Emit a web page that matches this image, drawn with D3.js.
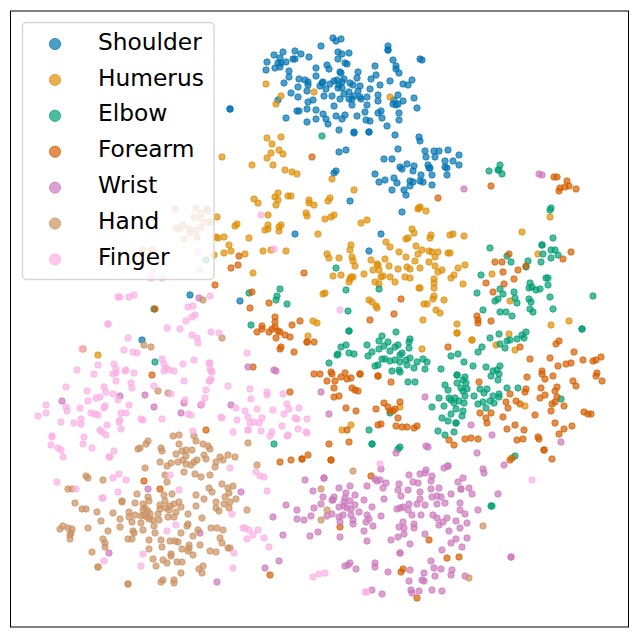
<!DOCTYPE html>
<html>
<head>
<meta charset="utf-8">
<script src="https://cdn.jsdelivr.net/npm/d3@7"></script>
<style>
html, body { margin: 0; padding: 0; background: #fff; }
svg { display: block; }
</style>
</head>
<body>
<div id="chart"></div>
<script>
// data: embedding positions
const categories = ["Shoulder", "Humerus", "Elbow", "Forearm", "Wrist", "Hand", "Finger"];
const colours = ["#0173b2", "#de8f05", "#029e73", "#d55e00", "#cc78bc", "#ca9161", "#fbafe4"];

const shoulder = [[333,38],[336,41],[341,39],[321,46],[388,46],[388,50],[388,50],[274,55],[283,52],[295,51],[301,54],[309,57],[338,52],[342,54],[349,53],[338,59],[280,58],[267,62],[286,62],[278,63],[281,63],[293,59],[295,59],[266,70],[275,68],[280,67],[327,65],[316,68],[329,69],[345,63],[347,64],[375,66],[393,60],[396,66],[396,69],[399,73],[420,59],[422,60],[289,71],[289,77],[316,76],[340,72],[341,73],[358,72],[357,78],[376,75],[371,79],[299,79],[305,80],[308,82],[284,83],[323,82],[322,83],[330,84],[334,81],[337,80],[344,79],[342,82],[350,83],[353,85],[360,86],[339,85],[338,88],[342,88],[320,86],[326,89],[308,85],[298,87],[307,91],[380,85],[390,81],[403,84],[408,85],[412,80],[370,89],[358,91],[291,93],[298,97],[324,96],[332,96],[344,94],[349,92],[378,95],[398,95],[414,98],[354,96],[352,99],[360,97],[361,99],[367,97],[340,99],[349,99],[313,100],[308,102],[378,101],[394,100],[403,101],[393,104],[396,105],[398,104],[278,100],[334,106],[352,105],[367,105],[417,108],[307,109],[316,110],[297,111],[299,111],[365,112],[381,111],[378,113],[399,113],[323,114],[336,116],[345,115],[357,116],[382,118],[326,119],[342,119],[316,119],[286,118],[307,122],[328,124],[366,120],[370,121],[399,120],[387,126],[339,130],[354,132],[354,133],[369,132],[369,132],[395,135],[230,109],[230,109],[419,137],[420,141],[398,149],[339,152],[346,150],[425,151],[426,157],[384,159],[392,159],[400,167],[402,169],[407,164],[414,166],[413,171],[428,165],[429,168],[334,173],[336,171],[375,174],[421,175],[394,178],[385,180],[379,182],[397,183],[410,181],[413,182],[410,186],[420,181],[423,182],[392,190],[404,190],[406,195],[350,201],[434,151],[439,151],[448,150],[459,155],[435,157],[445,161],[453,161],[430,168],[459,165],[445,167],[447,168],[432,175],[447,175],[432,185],[402,212],[381,234],[369,251],[295,234],[240,301],[190,295],[142,340]];

const humerus = [[266,84],[281,96],[276,104],[314,92],[390,97],[267,138],[281,137],[272,144],[279,150],[271,153],[283,154],[267,158],[222,157],[252,165],[273,165],[285,170],[292,172],[297,174],[332,179],[354,190],[254,199],[258,203],[278,193],[275,197],[278,200],[276,205],[288,196],[291,196],[309,200],[309,203],[314,205],[330,198],[328,201],[217,217],[306,213],[307,216],[325,219],[331,217],[334,215],[361,223],[367,220],[268,215],[237,224],[235,226],[268,225],[265,230],[268,229],[281,225],[279,227],[279,231],[318,234],[216,237],[218,238],[224,237],[249,238],[229,245],[231,251],[224,253],[245,254],[263,251],[271,250],[286,251],[253,273],[351,245],[350,250],[327,254],[329,258],[339,258],[352,257],[353,261],[355,266],[371,260],[385,259],[386,242],[390,247],[399,252],[406,257],[406,239],[408,238],[412,229],[414,233],[416,246],[422,250],[418,254],[415,261],[429,251],[429,262],[419,208],[418,209],[426,211],[377,264],[378,265],[389,266],[398,269],[407,267],[410,269],[420,268],[373,270],[379,270],[364,274],[333,276],[341,275],[353,277],[351,277],[350,279],[349,282],[381,277],[383,276],[390,277],[405,277],[410,278],[395,282],[375,282],[379,284],[419,288],[323,294],[325,293],[369,300],[372,302],[376,306],[377,308],[424,304],[427,304],[423,320],[313,321],[317,323],[308,336],[422,349],[420,207],[550,217],[522,232],[431,235],[430,238],[450,235],[453,234],[464,236],[432,252],[438,252],[448,253],[450,253],[435,257],[435,266],[442,270],[438,272],[458,268],[465,265],[454,275],[451,278],[434,279],[434,283],[434,288],[463,284],[420,288],[434,296],[433,299],[444,300],[436,310],[440,313],[457,324],[538,254],[492,274],[510,301],[551,325],[569,321],[457,333],[457,333],[472,340],[472,340],[496,345],[509,334],[515,350],[525,406],[351,425],[342,430],[400,407],[83,349],[98,355],[214,255]];

const elbow = [[322,136],[500,165],[489,171],[498,170],[499,170],[502,174],[551,208],[550,210],[553,238],[490,248],[542,245],[542,245],[551,250],[555,250],[543,254],[558,255],[551,258],[507,256],[511,262],[528,261],[541,262],[526,267],[481,275],[546,278],[548,278],[530,283],[548,285],[529,288],[532,287],[536,290],[540,289],[500,289],[477,293],[503,294],[514,292],[498,299],[495,301],[515,298],[517,303],[529,299],[531,302],[550,297],[593,296],[483,310],[500,312],[506,312],[512,316],[530,309],[533,312],[553,309],[582,329],[582,329],[526,332],[336,268],[346,290],[379,289],[348,311],[349,331],[349,331],[280,289],[277,296],[276,300],[287,304],[249,293],[251,325],[329,363],[382,336],[396,332],[410,339],[409,342],[367,345],[379,341],[388,342],[384,346],[398,345],[395,347],[409,348],[341,347],[346,345],[349,353],[354,354],[337,355],[338,354],[368,356],[372,352],[379,349],[390,351],[402,353],[400,355],[410,358],[382,359],[385,359],[390,361],[395,360],[400,362],[406,360],[417,362],[375,366],[378,365],[407,365],[414,368],[392,371],[399,370],[400,372],[408,382],[415,382],[274,444],[369,430],[372,444],[372,444],[400,447],[398,449],[390,413],[490,338],[499,334],[482,347],[478,352],[500,344],[505,348],[507,341],[510,340],[517,339],[522,335],[524,338],[451,356],[458,354],[464,362],[473,366],[441,369],[486,367],[500,366],[493,371],[497,370],[499,374],[491,376],[498,380],[457,375],[457,375],[465,377],[463,380],[457,383],[466,383],[445,385],[448,390],[461,388],[467,389],[463,391],[465,396],[480,389],[487,389],[484,393],[507,388],[518,388],[474,396],[493,396],[499,394],[499,397],[490,401],[483,402],[478,404],[494,403],[486,408],[449,398],[455,398],[439,398],[451,400],[454,403],[459,401],[464,403],[444,406],[432,407],[456,409],[463,411],[451,414],[462,416],[442,418],[448,421],[456,423],[456,423],[438,431],[454,432],[445,435],[561,399],[515,456],[423,359],[427,362],[425,369],[491,506],[492,506],[154,309],[155,362],[206,260]];

const forearm = [[312,157],[491,186],[554,177],[557,177],[567,181],[569,186],[565,187],[560,188],[559,191],[576,189],[438,198],[571,252],[563,259],[509,254],[495,262],[502,262],[518,270],[503,272],[526,266],[514,279],[486,283],[504,284],[493,292],[477,316],[478,320],[478,323],[491,321],[239,256],[238,265],[231,268],[304,273],[215,285],[252,292],[269,303],[250,308],[401,299],[394,314],[370,320],[275,317],[275,322],[275,327],[262,326],[262,329],[272,329],[269,332],[257,332],[278,331],[280,332],[285,335],[290,337],[276,338],[300,321],[292,325],[307,342],[307,342],[314,342],[281,347],[280,349],[294,352],[331,372],[314,374],[320,374],[332,374],[345,373],[341,377],[347,379],[351,378],[360,374],[360,374],[327,381],[335,381],[334,388],[334,397],[339,396],[352,388],[355,390],[358,391],[378,376],[378,376],[391,382],[290,392],[253,367],[384,403],[388,407],[390,411],[393,411],[395,409],[400,402],[376,409],[346,408],[356,411],[398,418],[378,425],[381,424],[347,430],[396,426],[402,427],[407,427],[414,428],[417,426],[329,444],[349,442],[308,455],[302,459],[302,459],[291,460],[280,462],[331,460],[331,460],[448,347],[520,347],[556,344],[559,341],[574,352],[530,359],[550,358],[558,366],[566,364],[571,363],[583,360],[593,361],[596,360],[601,357],[542,371],[542,374],[545,379],[553,376],[527,377],[479,382],[597,373],[596,376],[602,381],[573,381],[576,386],[541,388],[557,387],[555,391],[526,389],[525,392],[510,394],[545,395],[540,398],[557,397],[555,402],[552,404],[506,402],[516,401],[520,404],[508,408],[564,406],[551,411],[584,412],[588,414],[591,414],[480,413],[491,413],[503,417],[535,415],[486,418],[487,423],[555,423],[515,425],[507,429],[524,430],[564,429],[572,426],[559,434],[538,437],[539,439],[523,439],[517,440],[465,439],[471,438],[478,439],[449,440],[454,445],[544,450],[544,450],[552,459],[512,458],[510,460],[371,476],[340,527],[429,540],[447,558],[459,557],[403,569],[401,572],[417,598],[270,575],[144,481],[160,489],[206,430],[155,309],[152,375]];

const wrist = [[539,174],[542,175],[464,189],[199,298],[120,396],[145,395],[62,401],[154,407],[184,403],[181,413],[201,405],[248,367],[274,370],[276,371],[231,405],[321,392],[329,414],[425,397],[471,425],[492,435],[426,446],[428,447],[561,442],[477,453],[504,465],[444,468],[448,466],[448,466],[483,469],[484,473],[148,489],[241,492],[200,533],[109,553],[217,582],[265,568],[396,453],[381,469],[324,478],[324,478],[305,480],[375,479],[377,481],[380,480],[386,483],[367,486],[339,488],[350,486],[383,488],[313,491],[323,497],[334,497],[332,500],[333,500],[346,493],[345,498],[355,495],[350,501],[344,502],[364,500],[384,499],[321,504],[286,505],[297,510],[314,508],[339,507],[344,506],[347,508],[351,509],[355,505],[372,507],[359,512],[332,514],[327,516],[311,516],[297,519],[304,520],[273,517],[343,515],[339,517],[351,515],[367,515],[381,516],[369,519],[340,522],[353,520],[353,524],[366,522],[373,526],[364,531],[318,532],[310,536],[283,535],[340,537],[367,541],[409,475],[420,474],[425,473],[426,470],[432,476],[431,481],[413,482],[418,483],[399,484],[398,490],[408,490],[401,496],[420,492],[420,499],[431,489],[439,488],[432,497],[437,496],[441,497],[451,494],[458,482],[463,478],[461,489],[461,489],[469,488],[472,494],[498,494],[460,503],[445,503],[437,504],[425,505],[417,504],[409,504],[403,507],[400,508],[397,509],[408,510],[460,510],[465,514],[478,510],[412,515],[421,515],[433,515],[437,518],[447,518],[443,522],[439,525],[456,521],[467,523],[460,528],[403,522],[399,527],[404,528],[414,524],[414,528],[449,531],[404,534],[425,534],[398,537],[391,540],[456,539],[467,538],[451,543],[410,544],[462,547],[442,550],[400,553],[400,553],[431,561],[511,557],[511,557],[375,563],[375,567],[350,563],[348,565],[345,566],[356,569],[434,568],[441,569],[410,570],[452,570],[424,573],[388,572],[451,575],[435,576],[465,576],[409,581],[422,580],[424,581],[372,590],[382,594],[411,590],[412,593],[419,591],[432,590],[442,591],[279,561]];

const hand = [[173,436],[179,435],[194,436],[196,441],[148,441],[146,444],[179,444],[203,444],[208,446],[210,449],[248,443],[140,448],[138,449],[161,448],[162,451],[182,451],[186,450],[192,450],[176,454],[186,456],[204,455],[206,459],[220,457],[228,455],[235,457],[223,460],[183,460],[178,462],[171,463],[160,462],[167,466],[186,464],[191,465],[194,462],[197,460],[216,462],[215,467],[257,465],[145,468],[184,472],[165,475],[195,474],[201,477],[210,475],[86,476],[88,478],[103,480],[167,482],[222,484],[209,488],[212,492],[228,488],[233,486],[229,493],[68,489],[72,489],[137,494],[172,494],[164,495],[196,495],[225,497],[236,499],[204,499],[148,497],[165,501],[149,501],[122,501],[122,502],[135,503],[143,504],[179,502],[174,504],[170,506],[160,505],[75,503],[196,506],[216,502],[230,502],[224,504],[181,507],[166,508],[160,509],[169,510],[216,508],[219,511],[229,508],[82,509],[86,509],[145,508],[148,511],[143,510],[97,512],[113,513],[129,512],[150,514],[176,512],[188,514],[247,510],[129,517],[135,515],[141,516],[144,515],[147,517],[158,514],[168,517],[174,517],[202,518],[120,519],[132,522],[153,520],[159,520],[149,519],[101,521],[141,523],[154,526],[188,524],[187,526],[63,526],[60,529],[68,528],[72,529],[71,533],[70,535],[70,539],[88,528],[120,527],[108,531],[133,531],[134,533],[143,530],[198,530],[211,528],[217,528],[223,530],[155,533],[181,533],[193,536],[128,539],[132,539],[103,539],[149,540],[161,540],[170,541],[175,541],[178,542],[220,538],[105,543],[222,543],[105,547],[189,545],[189,548],[200,545],[162,547],[149,549],[182,549],[228,548],[230,548],[188,551],[210,551],[216,552],[92,552],[171,554],[171,556],[193,555],[153,559],[163,560],[167,563],[177,562],[182,562],[98,567],[98,567],[156,566],[203,566],[199,569],[202,573],[181,573],[163,580],[161,582],[174,580],[174,583],[128,584],[128,584],[222,338],[353,471],[321,489],[327,510],[321,520],[483,526],[469,578],[203,300],[144,345],[151,347],[158,391],[168,393],[175,209],[196,208],[207,209],[208,211],[201,213],[194,217],[201,219],[207,222],[211,222],[201,227],[183,225],[176,228],[180,229],[189,229],[196,230],[190,233],[197,237],[184,239],[143,250],[152,250]];

const finger = [[198,252],[200,270],[153,271],[151,278],[162,278],[261,215],[274,249],[340,310],[118,297],[120,297],[129,297],[134,295],[210,296],[188,307],[193,306],[195,315],[192,317],[186,321],[108,324],[108,324],[167,328],[180,329],[192,335],[197,338],[198,343],[211,332],[219,333],[128,338],[124,350],[133,352],[137,353],[82,349],[162,359],[194,360],[164,364],[183,364],[209,363],[98,365],[114,364],[116,369],[113,374],[116,373],[126,370],[125,371],[134,373],[77,370],[94,374],[166,368],[169,370],[174,371],[164,371],[210,369],[211,371],[116,381],[184,381],[211,379],[209,381],[131,383],[132,388],[154,386],[66,387],[87,391],[104,387],[106,392],[206,390],[113,394],[96,398],[100,397],[118,400],[88,401],[171,394],[205,398],[185,400],[46,405],[66,407],[67,411],[80,408],[104,408],[105,406],[129,405],[202,404],[38,416],[46,413],[91,413],[95,414],[98,415],[121,413],[126,413],[188,414],[191,415],[221,417],[81,419],[61,422],[74,423],[81,424],[120,420],[119,422],[141,419],[143,420],[162,419],[107,425],[121,429],[100,430],[102,432],[106,435],[52,436],[52,437],[84,437],[193,431],[51,445],[83,444],[58,448],[61,450],[92,448],[114,451],[63,457],[109,457],[110,457],[233,432],[248,430],[261,431],[270,436],[119,474],[113,478],[126,480],[170,475],[57,482],[76,489],[118,492],[179,490],[102,498],[103,498],[230,468],[256,472],[260,476],[264,477],[267,491],[232,514],[167,531],[176,525],[243,528],[245,528],[249,530],[258,530],[253,535],[247,539],[264,538],[269,547],[234,553],[143,554],[104,561],[141,566],[233,568],[247,353],[210,363],[212,372],[210,381],[228,386],[250,389],[267,392],[267,395],[283,394],[251,399],[287,404],[289,409],[299,408],[236,408],[245,411],[257,409],[273,410],[284,414],[222,418],[248,417],[237,420],[262,418],[295,418],[297,419],[307,419],[250,423],[254,422],[259,423],[282,426],[248,430],[272,432],[298,429],[306,432],[307,433],[287,436],[288,435],[380,464],[532,480],[313,577],[319,574],[325,573],[365,592],[367,592]];

const seriesPoints = [shoulder, humerus, elbow, forearm, wrist, hand, finger];

// constants
const WIDTH = 640;
const HEIGHT = 636;
const FRAME = { left: 10.5, right: 628.5, top: 11, bottom: 627 };
const POINT_RADIUS = 3.2;
const POINT_ALPHA = 0.7;
const LEGEND = { x: 22.5, y: 22.5, w: 191.5, h: 257, firstRow: 44, rowStep: 35.9, markerX: 55, markerRadius: 5.6, textX: 98, textDrop: 5.6, fontSize: 23.3 };

const svg = d3.select("#chart").append("svg")
    .attr("width", WIDTH)
    .attr("height", HEIGHT);

const x = d3.scaleLinear().domain([FRAME.left, FRAME.right]).range([FRAME.left, FRAME.right]);
const y = d3.scaleLinear().domain([FRAME.top, FRAME.bottom]).range([FRAME.top, FRAME.bottom]);
const colour = d3.scaleOrdinal().domain(categories).range(colours);

// points, one group per category so later ones sit on top
svg.append("g").selectAll("g")
    .data(categories)
    .join("g")
    .attr("fill", d => colour(d))
    .attr("stroke", d => colour(d))
    .attr("fill-opacity", POINT_ALPHA)
    .attr("stroke-opacity", POINT_ALPHA)
    .attr("stroke-width", 1)
    .selectAll("circle")
    .data((d, i) => seriesPoints[i])
    .join("circle")
    .attr("cx", d => x(d[0]))
    .attr("cy", d => y(d[1]))
    .attr("r", POINT_RADIUS);

// frame
svg.append("rect")
    .attr("x", FRAME.left)
    .attr("y", FRAME.top)
    .attr("width", FRAME.right - FRAME.left)
    .attr("height", FRAME.bottom - FRAME.top)
    .attr("fill", "none")
    .attr("stroke", "#000")
    .attr("stroke-width", 1);

// legend sits over the points and lets a little through
const legend = svg.append("g");
legend.append("rect")
    .attr("x", LEGEND.x)
    .attr("y", LEGEND.y)
    .attr("width", LEGEND.w)
    .attr("height", LEGEND.h)
    .attr("rx", 4)
    .attr("fill", "#fff")
    .attr("fill-opacity", 0.8)
    .attr("stroke", "#ccc")
    .attr("stroke-opacity", 0.8)
    .attr("stroke-width", 1.4);

const rows = legend.selectAll(".row")
    .data(categories)
    .join("g")
    .attr("class", "row")
    .attr("transform", (d, i) => "translate(0, " + (LEGEND.firstRow + i * LEGEND.rowStep) + ")");

rows.append("circle")
    .attr("cx", LEGEND.markerX)
    .attr("r", LEGEND.markerRadius)
    .attr("fill", d => colour(d))
    .attr("stroke", d => colour(d))
    .attr("fill-opacity", POINT_ALPHA)
    .attr("stroke-opacity", POINT_ALPHA)
    .attr("stroke-width", 1);

rows.append("text")
    .attr("x", LEGEND.textX)
    .attr("y", LEGEND.textDrop)
    .attr("font-family", "DejaVu Sans")
    .attr("font-size", LEGEND.fontSize)
    .attr("fill", "#000")
    .text(d => d);
</script>
</body>
</html>
